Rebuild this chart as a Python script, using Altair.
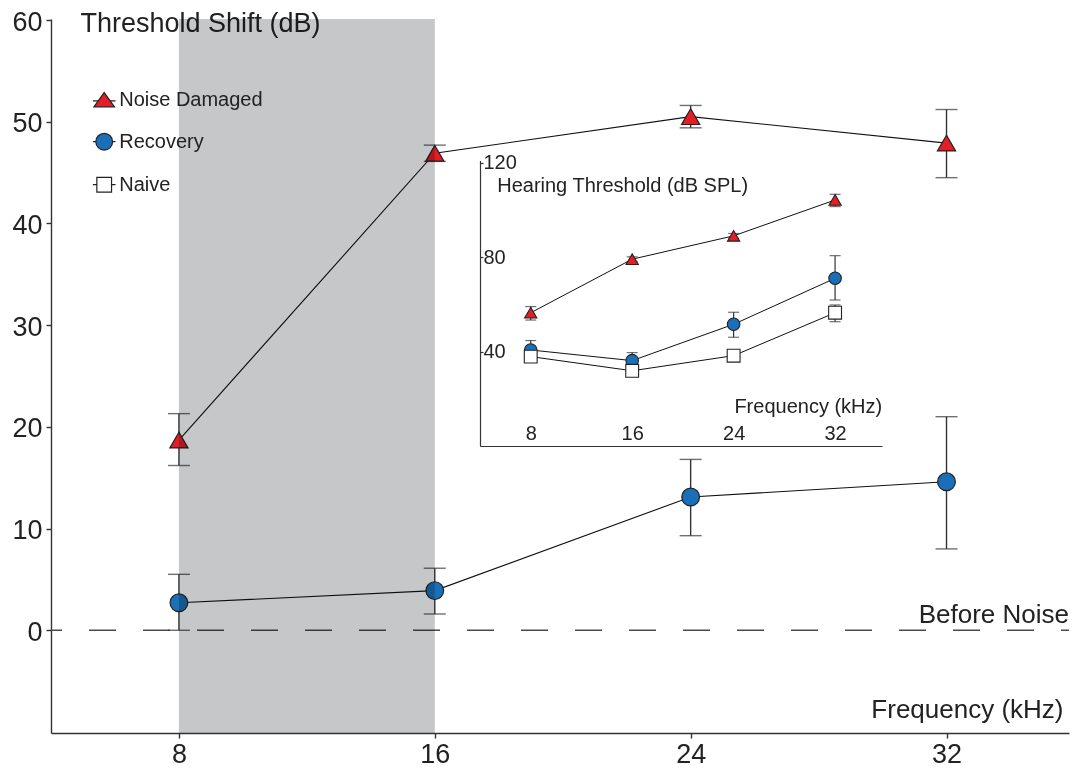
import altair as alt
import pandas as pd

# ---------------- data ----------------
freqs = [8, 16, 24, 32]
series_names = ["Noise Damaged", "Recovery", "Naive"]
series_colors = ["#e41e26", "#1a70b8", "#ffffff"]

# main panel: threshold shift (dB)
shift_noise = [18.7, 46.9, 50.5, 47.9]
shift_noise_lo = [16.2, 46.1, 49.4, 44.5]
shift_noise_hi = [21.3, 47.7, 51.6, 51.2]
shift_recov = [2.7, 3.9, 13.1, 14.6]
shift_recov_lo = [0.0, 1.6, 9.3, 8.0]
shift_recov_hi = [5.5, 6.1, 16.8, 21.0]

# inset: hearing threshold (dB SPL)
thr_noise = [56.5, 79.2, 89.1, 104.3]
thr_noise_lo = [53.4, 78.2, 88.1, 101.5]
thr_noise_hi = [59.1, 80.2, 90.1, 106.7]
thr_recov = [40.7, 36.2, 51.6, 71.1]
thr_recov_lo = [37.5, 33.0, 46.1, 61.9]
thr_recov_hi = [44.7, 39.6, 56.7, 80.7]
thr_naive = [37.9, 31.9, 38.3, 56.5]
thr_naive_lo = [36.4, 30.9, 37.3, 52.7]
thr_naive_hi = [39.4, 32.9, 39.3, 59.8]

band_start = [8]
band_end = [16]
ref_value = [0]
ref_label = ["Before Noise"]
ref_label_x = [35.83]

# ---------------- tables ----------------
def series_frame(name, vals, lo, hi):
    return pd.DataFrame({"freq": freqs, "series": name, "value": vals, "lo": lo, "hi": hi})

main_df = pd.concat([
    series_frame("Noise Damaged", shift_noise, shift_noise_lo, shift_noise_hi),
    series_frame("Recovery", shift_recov, shift_recov_lo, shift_recov_hi),
])
inset_df = pd.concat([
    series_frame("Noise Damaged", thr_noise, thr_noise_lo, thr_noise_hi),
    series_frame("Recovery", thr_recov, thr_recov_lo, thr_recov_hi),
    series_frame("Naive", thr_naive, thr_naive_lo, thr_naive_hi),
])
band_df = pd.DataFrame({"start": band_start, "end": band_end})
ref_df = pd.DataFrame({"y": ref_value, "x": ref_label_x, "label": ref_label})

# ---------------- styling ----------------
FONT = "Liberation Sans"
INK = "#222222"
AX = "#333333"

W, H = 1018, 714

main_x_scale = alt.Scale(domain=[4, 35.83], nice=False, zero=False)
main_y_scale = alt.Scale(domain=[-10.1, 60.1], nice=False, zero=False)

main_x_axis = alt.Axis(
    values=freqs, grid=False, tickSize=5, tickWidth=1.4, tickColor=AX,
    domainColor=AX, domainWidth=1.4, labelFontSize=27, labelPadding=3,
    labelColor=INK, labelFont=FONT,
    title="Frequency (kHz)", titleFont=FONT, titleFontSize=26, titleFontWeight="normal",
    titleColor=INK, titleX=1012, titleY=-16, titleAlign="right", titleBaseline="alphabetic",
)
main_y_axis = alt.Axis(
    values=[0, 10, 20, 30, 40, 50, 60], grid=False, tickSize=5, tickWidth=1.4, tickColor=AX,
    domainColor=AX, domainWidth=1.4, labelFontSize=27, labelPadding=4, labelOffset=2,
    labelColor=INK, labelFont=FONT,
    title="Threshold Shift (dB)", titleFont=FONT, titleFontSize=27, titleFontWeight="normal",
    titleColor=INK, titleAngle=0, titleX=29, titleY=12, titleAlign="left",
    titleBaseline="alphabetic",
)

MX = lambda f: alt.X(f, type="quantitative", scale=main_x_scale, axis=main_x_axis)
MY = lambda f: alt.Y(f, type="quantitative", scale=main_y_scale, axis=main_y_axis)

shape_scale = alt.Scale(domain=series_names, range=["triangle-up", "circle", "square"])
fill_scale = alt.Scale(domain=series_names, range=series_colors)

# ---------------- main panel ----------------
base_main = alt.Chart(main_df)
main_line = base_main.mark_line(color="#111111", strokeWidth=1.1).encode(
    x=MX("freq"), y=MY("value"), detail="series:N")
main_err = base_main.mark_rule(color=AX, strokeWidth=1.4).encode(
    x=MX("freq"), y=MY("lo"), y2="hi:Q")
main_cap_lo = base_main.mark_tick(orient="horizontal", size=22, thickness=1.4, color=AX).encode(
    x=MX("freq"), y=MY("lo"))
main_cap_hi = base_main.mark_tick(orient="horizontal", size=22, thickness=1.4, color=AX).encode(
    x=MX("freq"), y=MY("hi"))
main_pts = base_main.mark_point(filled=True, opacity=1, stroke=INK, strokeWidth=1.2).encode(
    x=MX("freq"), y=MY("value"),
    shape=alt.Shape("series:N", scale=shape_scale, legend=None),
    fill=alt.Fill("series:N", scale=fill_scale, legend=None),
    size=alt.Size("series:N", scale=alt.Scale(domain=series_names, range=[330, 300, 250]), legend=None),
)
zero_rule = alt.Chart(ref_df).mark_rule(
    color="#4a4a4a", strokeWidth=1.4, strokeDash=[27, 27], strokeDashOffset=19
).encode(y=MY("y"))
zero_text = alt.Chart(ref_df).mark_text(
    align="right", baseline="alphabetic", dx=0, dy=-7, fontSize=26, font=FONT, color=INK
).encode(x=MX("x"), y=MY("y"), text="label:N")
band = alt.Chart(band_df).mark_rect(color="#c6c7c9", blend="multiply").encode(
    x=MX("start"), x2="end:Q")

main_layer = alt.layer(zero_rule, main_line, main_err, main_cap_lo, main_cap_hi, main_pts, band, zero_text)

# ---------------- inset panel ----------------
inset_x_scale = alt.Scale(domain=[4, 35.7], range=[429, 831], nice=False, zero=False)
inset_y_scale = alt.Scale(domain=[0, 121], range=[427, 141.6], nice=False, zero=False)

inset_x_axis = alt.Axis(
    orient="top", offset=-427, values=freqs, grid=False, ticks=False,
    domainColor=AX, domainWidth=1.2, labelFontSize=20, labelPadding=3,
    labelColor=INK, labelFont=FONT,
    title="Frequency (kHz)", titleFont=FONT, titleFontSize=20, titleFontWeight="normal",
    titleColor=INK, titleX=830.7, titleY=-34, titleAlign="right", titleBaseline="alphabetic",
)
inset_y_axis = alt.Axis(
    orient="right", offset=-(W - 429), values=[40, 80, 120], grid=False, tickSize=3,
    tickColor=AX, tickWidth=1.2, domainColor=AX, domainWidth=1.2,
    labelFontSize=20, labelPadding=0, labelColor=INK, labelFont=FONT,
    title="Hearing Threshold (dB SPL)", titleFont=FONT, titleFontSize=20,
    titleFontWeight="normal", titleColor=INK, titleAngle=0, titleX=16.7, titleY=172.7,
    titleAlign="left", titleBaseline="alphabetic",
)

IX = lambda f: alt.X(f, type="quantitative", scale=inset_x_scale, axis=inset_x_axis)
IY = lambda f: alt.Y(f, type="quantitative", scale=inset_y_scale, axis=inset_y_axis)

base_inset = alt.Chart(inset_df)
inset_line = base_inset.mark_line(color="#111111", strokeWidth=1.0).encode(
    x=IX("freq"), y=IY("value"), detail="series:N")
inset_err = base_inset.mark_rule(color=AX, strokeWidth=1.2).encode(
    x=IX("freq"), y=IY("lo"), y2="hi:Q")
inset_cap_lo = base_inset.mark_tick(orient="horizontal", size=11, thickness=1.2, color=AX).encode(
    x=IX("freq"), y=IY("lo"))
inset_cap_hi = base_inset.mark_tick(orient="horizontal", size=11, thickness=1.2, color=AX).encode(
    x=IX("freq"), y=IY("hi"))
inset_pts = base_inset.mark_point(filled=True, opacity=1, stroke=INK, strokeWidth=1.1).encode(
    x=IX("freq"), y=IY("value"),
    shape=alt.Shape("series:N", scale=shape_scale, legend=None),
    fill=alt.Fill("series:N", scale=fill_scale, legend=None),
    size=alt.Size("series:N", scale=alt.Scale(domain=series_names, range=[150, 165, 130]), legend=None),
)
inset_layer = alt.layer(inset_line, inset_err, inset_cap_lo, inset_cap_hi, inset_pts)

# ---------------- legend ----------------
legend_paths = [
    "M-1,0.1H-0.53M0.53,0.1H1M0,-0.63L0.91,0.63L-0.91,0.63Z",
    "M-1,0H-0.74M0.74,0H1M0.74,0A0.74,0.74 0 1,1 -0.74,0A0.74,0.74 0 1,1 0.74,0Z",
    "M-1,0H-0.65M0.65,0H1M-0.65,-0.65H0.65V0.65H-0.65Z",
]
legend_def = alt.Legend(
    orient="none", legendX=41.2, legendY=68.7, title=None, padding=0,
    symbolSize=511, symbolStrokeWidth=1.2, symbolOpacity=1,
    labelFontSize=20, labelFont=FONT, labelColor=INK, labelOffset=3, labelLimit=400,
    rowPadding=20,
)
legend_layer = alt.Chart(inset_df).transform_filter("datum.freq < 0").mark_point(
    filled=True, strokeWidth=1.2
).encode(
    x=alt.X("freq:Q", scale=inset_x_scale, axis=None),
    y=alt.Y("value:Q", scale=inset_y_scale, axis=None),
    shape=alt.Shape("series:N", scale=alt.Scale(domain=series_names, range=legend_paths), legend=legend_def),
    fill=alt.Fill("series:N", scale=fill_scale, legend=legend_def),
    stroke=alt.Stroke("series:N", scale=alt.Scale(domain=series_names, range=[INK, INK, INK]), legend=legend_def),
)

chart = alt.layer(main_layer, inset_layer, legend_layer).resolve_scale(
    x="independent", y="independent", shape="independent", fill="independent",
    size="independent", stroke="independent"
).properties(
    width=W, height=H, autosize="none",
    padding={"left": 43, "top": 11, "right": 1, "bottom": 35},
    background="white",
).configure(font=FONT).configure_view(strokeWidth=0, stroke="transparent")

chart.save("out.html", embed_options={"renderer": "svg", "actions": False})
